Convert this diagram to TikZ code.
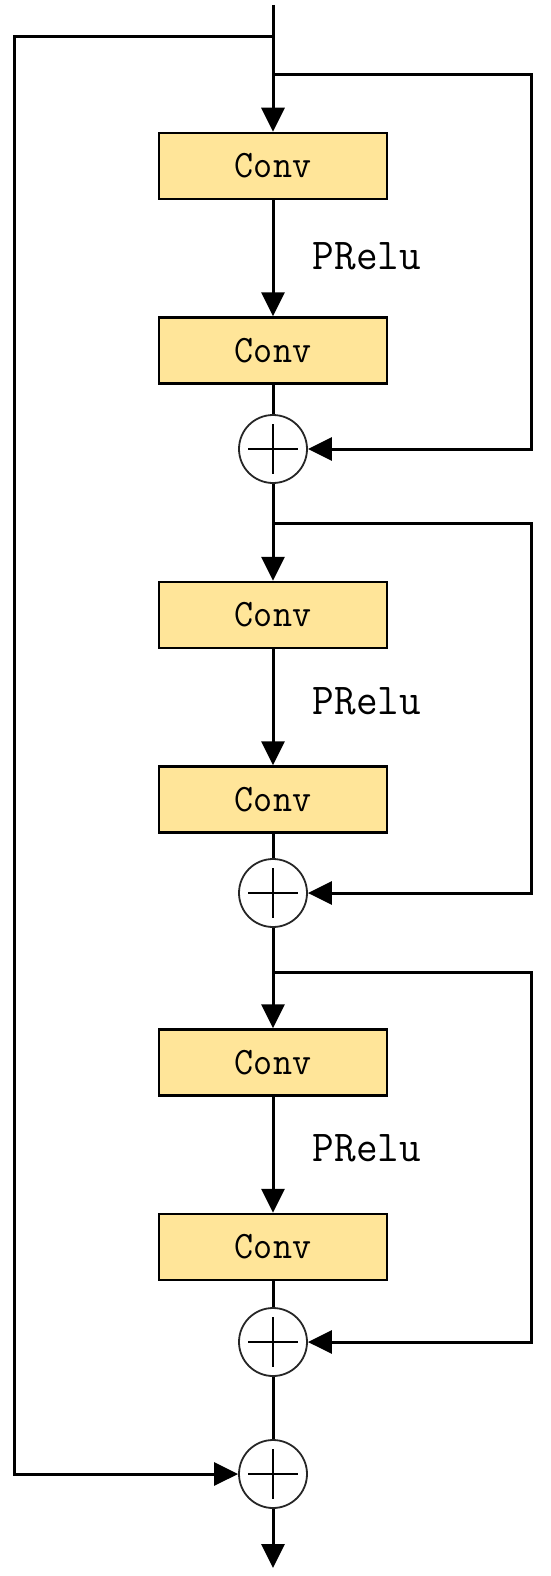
\documentclass[tikz,border=0pt]{standalone}
\usepackage{fontspec}
\usetikzlibrary{arrows.meta}
\definecolor{convfill}{HTML}{FFE599}
\tikzset{
  convbox/.style={draw=black, line width=2.5pt, fill=convfill, minimum width=228pt, minimum height=66pt, inner sep=0pt,
    font=\ttfamily\fontsize{37}{37}\selectfont},
  sumnode/.style={circle, draw=black!85, line width=1.8pt, fill=white, minimum size=68pt, inner sep=0pt,
    path picture={
      \draw[black, line width=2pt] ([xshift=9pt]path picture bounding box.west) -- ([xshift=-9pt]path picture bounding box.east);
      \draw[black, line width=2pt] ([yshift=-9pt]path picture bounding box.north) -- ([yshift=9pt]path picture bounding box.south);
    }},
  wire/.style={line width=3pt, line join=miter},
  arr/.style={wire, -{Triangle[length=24pt,width=23pt]}},
  actlabel/.style={font=\ttfamily\fontsize{42}{42}\selectfont, inner sep=0pt}
}
\begin{document}
\begin{tikzpicture}[x=1pt,y=-1pt]
\useasboundingbox (0,0) rectangle (550,1576);
\coordinate (top) at (273,5);
\coordinate (j0) at (273,37);
\coordinate (j1) at (273,75);
\coordinate (l0) at (14,37);
\coordinate (r1) at (531,75);
\node[convbox] (c1) at (273,166) {\scalebox{1}[1.05]{Conv}};
\node[convbox] (c2) at (273,350.5) {\scalebox{1}[1.05]{Conv}};
\node[sumnode] (s1) at (273,449) {};
\coordinate (j2) at (273,523);
\coordinate (r2) at (531,523);
\node[convbox] (c3) at (273,615) {\scalebox{1}[1.05]{Conv}};
\node[convbox] (c4) at (273,799.5) {\scalebox{1}[1.05]{Conv}};
\node[sumnode] (s2) at (273,893) {};
\coordinate (j3) at (273,972);
\coordinate (r3) at (531,972);
\node[convbox] (c5) at (273,1062.5) {\scalebox{1}[1.05]{Conv}};
\node[convbox] (c6) at (273,1247) {\scalebox{1}[1.05]{Conv}};
\node[sumnode] (s3) at (273,1342) {};
\node[sumnode] (s4) at (273,1474) {};
\coordinate (bot) at (273,1568);
\node[actlabel] (p1) at (367,256) {\scalebox{1}[1.05]{PRelu}};
\node[actlabel] (p2) at (367,701) {\scalebox{1}[1.05]{PRelu}};
\node[actlabel] (p3) at (367,1148) {\scalebox{1}[1.05]{PRelu}};
% main path
\draw[arr] (top) -- (c1);
\draw[arr] (c1) -- (c2);
\draw[wire] (c2) -- (s1);
\draw[arr] (s1) -- (c3);
\draw[arr] (c3) -- (c4);
\draw[wire] (c4) -- (s2);
\draw[arr] (s2) -- (c5);
\draw[arr] (c5) -- (c6);
\draw[wire] (c6) -- (s3);
\draw[wire] (s3) -- (s4);
\draw[arr] (s4) -- (bot);
% skips
\draw[arr] (j1) -- (r1) |- (s1);
\draw[arr] (j2) -- (r2) |- (s2);
\draw[arr] (j3) -- (r3) |- (s3);
\draw[arr] (j0) -- (l0) |- (s4);
\end{tikzpicture}
\end{document}
